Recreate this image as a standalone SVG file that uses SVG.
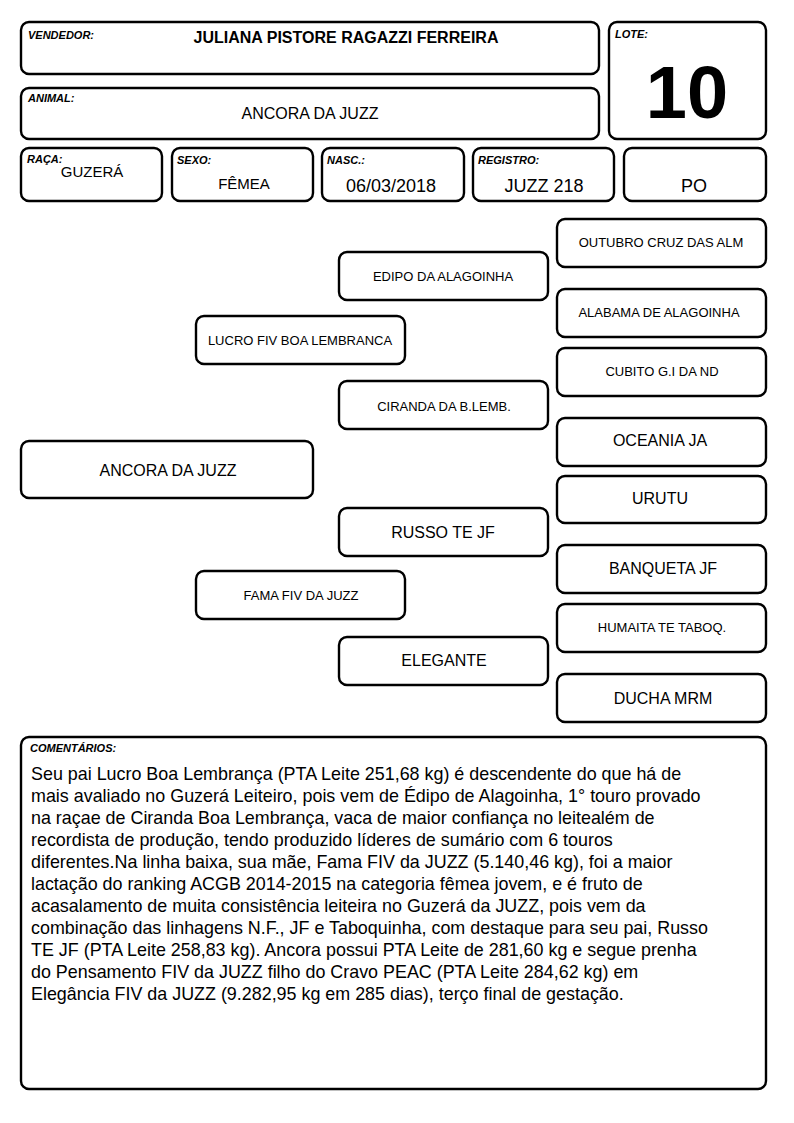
<svg xmlns="http://www.w3.org/2000/svg" width="794" height="1123" viewBox="0 0 794 1123">
<style>
.box{fill:#fff;stroke:#000;stroke-width:2.4}
text{font-family:"Liberation Sans",Arial,sans-serif;fill:#000}
.lbl{font-size:11px;font-weight:bold;font-style:italic}
.c{text-anchor:middle}
.s{font-size:13px}
.m{font-size:16px}
.big{font-size:18px}
.cm{font-size:17.9px}
</style>
<rect width="794" height="1123" fill="#fff"/>
<g id="vendedor"><rect class="box" x="21" y="22" width="578" height="52" rx="8"/><text class="lbl" x="28" y="39">VENDEDOR:</text><text x="346" y="43" class="c" font-size="16" font-weight="bold">JULIANA PISTORE RAGAZZI FERREIRA</text></g>
<g id="lote"><rect class="box" x="609" y="22" width="157" height="117" rx="8"/><text class="lbl" x="615" y="38">LOTE:</text><text x="687" y="118" class="c" font-size="74" font-weight="bold">10</text></g>
<g id="animal"><rect class="box" x="21" y="88" width="578" height="51" rx="8"/><text class="lbl" x="28" y="102">ANIMAL:</text><text x="310" y="119" class="c m">ANCORA DA JUZZ</text></g>
<g id="raca"><rect class="box" x="21" y="148" width="141" height="53" rx="8"/><text class="lbl" x="27" y="163">RAÇA:</text><text x="92" y="177" class="c" font-size="15">GUZERÁ</text></g>
<g id="sexo"><rect class="box" x="172" y="148" width="141" height="53" rx="8"/><text class="lbl" x="177" y="164">SEXO:</text><text x="244" y="189" class="c" font-size="15">FÊMEA</text></g>
<g id="nasc"><rect class="box" x="322" y="148" width="142" height="53" rx="8"/><text class="lbl" x="327" y="164">NASC.:</text><text x="391" y="192" class="c big">06/03/2018</text></g>
<g id="registro"><rect class="box" x="473" y="148" width="141" height="53" rx="8"/><text class="lbl" x="478" y="164">REGISTRO:</text><text x="544" y="192" class="c big">JUZZ 218</text></g>
<g id="po"><rect class="box" x="624" y="148" width="142" height="53" rx="8"/><text x="694" y="192" class="c big">PO</text></g>

<g id="outubro"><rect class="box" x="557" y="219" width="209" height="48" rx="8"/><text x="661" y="247" class="c s">OUTUBRO CRUZ DAS ALM</text></g>
<g id="edipo"><rect class="box" x="339" y="252" width="209" height="48" rx="8"/><text x="443" y="281" class="c s">EDIPO DA ALAGOINHA</text></g>
<g id="alabama"><rect class="box" x="557" y="289" width="209" height="48" rx="8"/><text x="659" y="317" class="c s">ALABAMA DE ALAGOINHA</text></g>
<g id="lucro"><rect class="box" x="196" y="316" width="209" height="48" rx="8"/><text x="300" y="345" class="c s">LUCRO FIV BOA LEMBRANCA</text></g>
<g id="cubito"><rect class="box" x="557" y="348" width="209" height="48" rx="8"/><text x="662" y="376" class="c s">CUBITO G.I DA ND</text></g>
<g id="ciranda"><rect class="box" x="339" y="381" width="209" height="48" rx="8"/><text x="444" y="411" class="c s">CIRANDA DA B.LEMB.</text></g>
<g id="oceania"><rect class="box" x="557" y="418" width="209" height="48" rx="8"/><text x="660" y="446" class="c m">OCEANIA JA</text></g>
<g id="ancora"><rect class="box" x="21" y="441" width="292" height="57" rx="8"/><text x="168" y="476" class="c m">ANCORA DA JUZZ</text></g>
<g id="urutu"><rect class="box" x="557" y="476" width="209" height="47" rx="8"/><text x="660" y="504" class="c m">URUTU</text></g>
<g id="russo"><rect class="box" x="339" y="508" width="209" height="48" rx="8"/><text x="443" y="538" class="c m">RUSSO TE JF</text></g>
<g id="banqueta"><rect class="box" x="557" y="545" width="209" height="48" rx="8"/><text x="663" y="574" class="c m">BANQUETA JF</text></g>
<g id="fama"><rect class="box" x="196" y="571" width="209" height="48" rx="8"/><text x="301" y="600" class="c s">FAMA FIV DA JUZZ</text></g>
<g id="humaita"><rect class="box" x="557" y="604" width="209" height="48" rx="8"/><text x="662" y="632" class="c s">HUMAITA TE TABOQ.</text></g>
<g id="elegante"><rect class="box" x="339" y="637" width="209" height="48" rx="8"/><text x="444" y="666" class="c m">ELEGANTE</text></g>
<g id="ducha"><rect class="box" x="557" y="674" width="209" height="48" rx="8"/><text x="663" y="704" class="c m">DUCHA MRM</text></g>
<g id="connectors"/>

<g id="comentarios"><rect class="box" x="21" y="737" width="745" height="352" rx="8"/><text class="lbl" x="30" y="752">COMENTÁRIOS:</text>
<text class="cm" x="31" y="780">Seu pai Lucro Boa Lembrança (PTA Leite 251,68 kg) é descendente do que há de</text>
<text class="cm" x="31" y="802">mais avaliado no Guzerá Leiteiro, pois vem de Édipo de Alagoinha, 1° touro provado</text>
<text class="cm" x="31" y="824">na raçae de Ciranda Boa Lembrança, vaca de maior confiança no leitealém de</text>
<text class="cm" x="31" y="846">recordista de produção, tendo produzido líderes de sumário com 6 touros</text>
<text class="cm" x="31" y="868">diferentes.Na linha baixa, sua mãe, Fama FIV da JUZZ (5.140,46 kg), foi a maior</text>
<text class="cm" x="31" y="890">lactação do ranking ACGB 2014-2015 na categoria fêmea jovem, e é fruto de</text>
<text class="cm" x="31" y="912">acasalamento de muita consistência leiteira no Guzerá da JUZZ, pois vem da</text>
<text class="cm" x="31" y="934">combinação das linhagens N.F., JF e Taboquinha, com destaque para seu pai, Russo</text>
<text class="cm" x="31" y="956">TE JF (PTA Leite 258,83 kg). Ancora possui PTA Leite de 281,60 kg e segue prenha</text>
<text class="cm" x="31" y="978">do Pensamento FIV da JUZZ filho do Cravo PEAC (PTA Leite 284,62 kg) em</text>
<text class="cm" x="31" y="1000">Elegância FIV da JUZZ (9.282,95 kg em 285 dias), terço final de gestação.</text>
</g>
</svg>
